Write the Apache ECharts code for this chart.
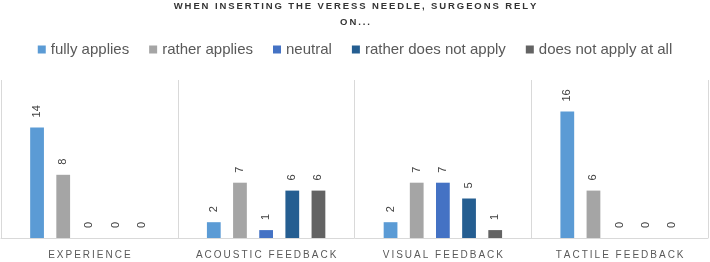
<!DOCTYPE html>
<html>
<head>
<meta charset="utf-8">
<script src="https://cdn.jsdelivr.net/npm/echarts@6/dist/echarts.min.js"></script>
<style>
  html, body { margin: 0; padding: 0; background: #fff; }
  #chart { width: 710px; height: 262px; }
</style>
</head>
<body>
<div id="chart"></div>
<script>
const categories = ['Experience', 'Acoustic feedback', 'Visual feedback', 'Tactile feedback']
const seriesNames = ['fully applies', 'rather applies', 'neutral', 'rather does not apply', 'does not apply at all']
const fullyApplies = [14, 2, 2, 16]
const ratherApplies = [8, 7, 7, 6]
const neutral = [0, 1, 7, 0]
const ratherNot = [0, 6, 5, 0]
const notAtAll = [0, 6, 1, 0]
const colors = ['#5b9bd5', '#a5a5a5', '#4472c4', '#255e91', '#636363']
const titleText = 'When inserting the Veress needle, surgeons rely\non...'

const values = [fullyApplies, ratherApplies, neutral, ratherNot, notAtAll]

// spread letters like the office chart does (thin space between letters)
function spaced(s) {
  return s.toUpperCase().split('\n').map(l => l.split('').join('\u2009')).join('\n')
}

const series = seriesNames.map((name, i) => ({
  name: name,
  type: 'bar',
  data: values[i],
  barGap: '90%',
  barCategoryGap: '33%',
  itemStyle: { color: colors[i] },
  label: {
    show: true,
    position: 'top',
    rotate: 90,
    align: 'left',
    verticalAlign: 'middle',
    distance: 10,
    color: '#404040',
    fontSize: 11,
    fontFamily: 'Liberation Sans'
  },
  emphasis: { disabled: true }
}))

const chart = echarts.init(document.getElementById('chart'))
chart.setOption({
  animation: false,
  title: {
    text: spaced(titleText),
    left: 'center',
    top: -2,
    padding: 0,
    textStyle: {
      fontSize: 9.5,
      fontWeight: 'bold',
      color: '#333333',
      fontFamily: 'Liberation Sans',
      lineHeight: 16
    }
  },
  legend: {
    data: seriesNames,
    left: 'center',
    top: 37,
    icon: 'rect',
    itemWidth: 8,
    itemHeight: 8,
    itemGap: 20,
    textStyle: {
      fontSize: 15,
      color: '#595959',
      fontFamily: 'Liberation Sans'
    }
  },
  grid: { left: 1, right: 2, top: 80, bottom: 24, containLabel: false },
  xAxis: {
    type: 'category',
    data: categories,
    axisLine: { lineStyle: { color: '#d9d9d9' } },
    axisTick: { show: false },
    splitLine: { show: true, interval: 0, lineStyle: { color: '#d9d9d9' } },
    axisLabel: {
      interval: 0,
      color: '#595959',
      fontSize: 10,
      fontFamily: 'Liberation Sans',
      margin: 12,
      formatter: v => spaced(v)
    }
  },
  yAxis: {
    type: 'value',
    min: 0,
    max: 20,
    show: false,
    splitLine: { show: false }
  },
  series
})
</script>
</body>
</html>
